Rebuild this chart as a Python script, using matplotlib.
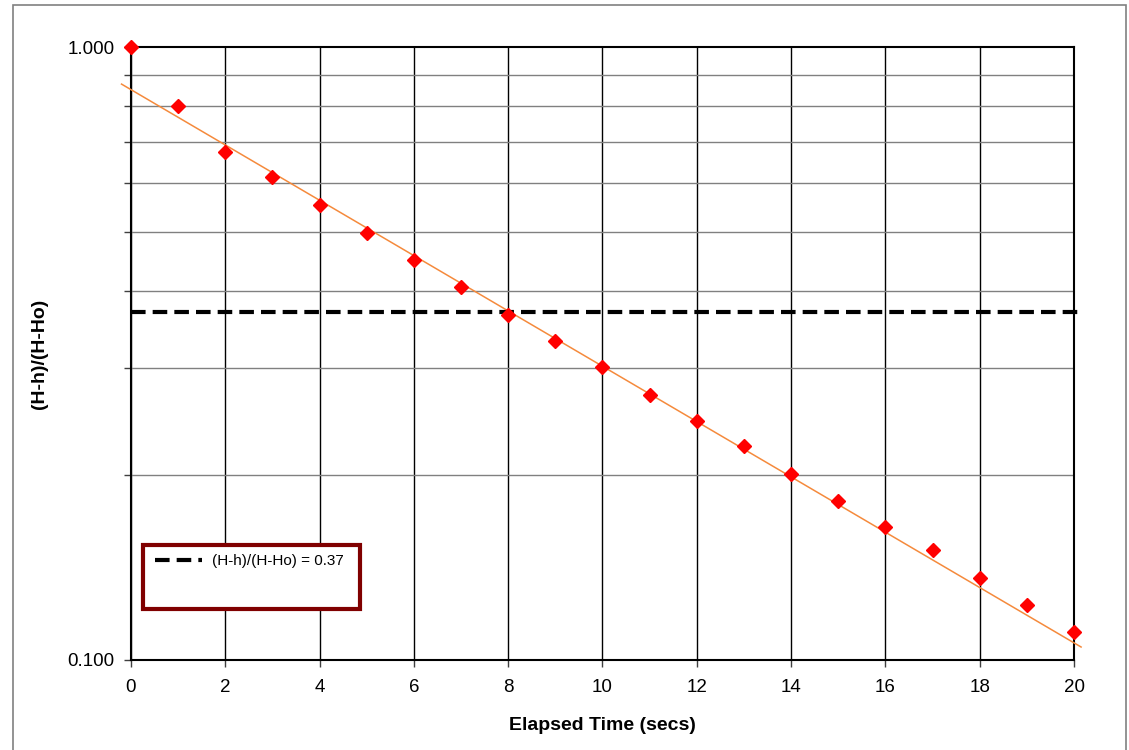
import matplotlib.pyplot as plt
from matplotlib.patches import Rectangle
from matplotlib.ticker import FixedLocator, NullFormatter

plt.rcParams['font.family'] = ['Liberation Sans', 'DejaVu Sans']

# Измерения
elapsed = [0, 1, 2, 3, 4, 5, 6, 7, 8, 9, 10, 11, 12, 13, 14, 15, 16, 17, 18, 19, 20]
ratio = [1.000, 0.801, 0.674, 0.614, 0.552, 0.497, 0.449, 0.406, 0.365, 0.331, 0.301,
         0.271, 0.245, 0.223, 0.201, 0.182, 0.165, 0.151, 0.136, 0.123, 0.111]

# Линия тренда (концы)
fit_x = [-0.2, 20.15]
fit_y = [0.870, 0.105]

# Уровень 0.37
level_x = [0, 20.1]
level_y = [0.37, 0.37]

fig = plt.figure(figsize=(11.29, 7.5), dpi=100)
ax = fig.add_axes([0.116, 0.12, 0.8353, 0.8173])

# рамка всей картинки
fig.patches.append(Rectangle((0.0115, -0.01), 0.986, 1.003, transform=fig.transFigure,
                             fill=False, edgecolor='#808080', linewidth=1.2))

ax.set_yscale('log')
ax.set_xlim(0, 20)
ax.set_ylim(0.1, 1.0)

ax.set_xticks(range(0, 21, 2))
ax.yaxis.set_major_locator(FixedLocator([0.1, 1.0]))
ax.yaxis.set_minor_locator(FixedLocator([0.2, 0.3, 0.4, 0.5, 0.6, 0.7, 0.8, 0.9]))
ax.yaxis.set_minor_formatter(NullFormatter())
ax.set_yticklabels(['0.100', '1.000'])

ax.grid(True, axis='x', color='black', linewidth=1)
ax.grid(True, axis='y', which='minor', color='#808080', linewidth=1)
ax.set_axisbelow(True)

ax.tick_params(axis='both', which='both', direction='out', length=5, width=1,
               labelsize=13.5, color='#404040')
ax.tick_params(axis='y', which='major', pad=7)
ax.tick_params(axis='x', which='major', pad=9)
for s in ax.spines.values():
    s.set_color('black')
    s.set_linewidth(1.5)

ax.plot(fit_x, fit_y, color='#f58a3c', linewidth=1.1, clip_on=False, zorder=3)
ax.plot(level_x, level_y, color='black', linewidth=3, linestyle=(0, (3.5, 1.7)),
        clip_on=False, zorder=4, label='(H-h)/(H-Ho) = 0.37')
ax.plot(elapsed, ratio, linestyle='none', marker='D', markersize=7.5, color='#ff0000',
        clip_on=False, zorder=5)

ax.set_xlabel('Elapsed Time (secs)', fontsize=14, fontweight='bold')
ax.set_ylabel('(H-h)/(H-Ho)', fontsize=14, fontweight='bold')
ax.xaxis.set_label_coords(0.5, -0.093)
ax.yaxis.set_label_coords(-0.088, 0.5)

# рамка легенды как в оригинале (выше по высоте, чем сама запись)
box = Rectangle((143 / 1129, 1 - 609 / 750), 217 / 1129, 64 / 750,
                transform=fig.transFigure, facecolor='white',
                edgecolor='#800000', linewidth=3, zorder=6, clip_on=False)
ax.add_patch(box)

leg = ax.legend(loc='center left', bbox_to_anchor=(0.0255, 0.1615), fontsize=11,
                frameon=False, handlelength=3.1, handletextpad=0.6, borderpad=0,
                borderaxespad=0)
leg.set_zorder(7)

fig.savefig('out.png', dpi=100)
